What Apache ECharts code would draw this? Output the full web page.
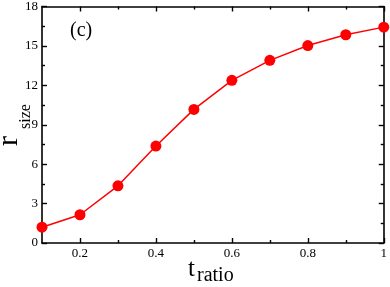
<!DOCTYPE html>
<html>
<head>
<meta charset="utf-8">
<script src="https://cdn.jsdelivr.net/npm/echarts@6/dist/echarts.min.js"></script>
<style>html,body{margin:0;padding:0;background:#fff}#c{width:390px;height:287px}</style>
</head>
<body>
<div id="c"></div>
<script>
var tRatio = [0.1, 0.2, 0.3, 0.4, 0.5, 0.6, 0.7, 0.8, 0.9, 1.0];
var rSize = [1.2, 2.15, 4.35, 7.38, 10.17, 12.38, 13.9, 15.03, 15.85, 16.43];
var xMajorTicks = [0.2, 0.4, 0.6, 0.8, 1.0];
var xMinorTicks = [0.3, 0.5, 0.7, 0.9];
var yTicks = [0, 3, 6, 9, 12, 15, 18];

var FONT = 'Liberation Serif';
var chart = echarts.init(document.getElementById('c'), null, {renderer: 'canvas'});
function xAx(pos, ticks, len, labels, line) {
  return {
    type: 'value', position: pos, min: 0.1, max: 1.0, interval: 0.1,
    axisLine: {show: line, onZero: false, lineStyle: {color: '#000', width: 1.6}},
    axisTick: {show: true, inside: true, length: len, customValues: ticks, lineStyle: {color: '#000', width: 1.4}},
    axisLabel: labels ? {show: true, customValues: xMajorTicks, margin: 4, color: '#000', fontFamily: FONT, fontSize: 13,
      formatter: function (v) { return Math.abs(v - 1) < 1e-9 ? '1' : v.toFixed(1); }} : {show: false},
    splitLine: {show: false}
  };
}
function yAx(pos, labels) {
  return {
    type: 'value', position: pos, min: yTicks[0], max: yTicks[yTicks.length - 1], interval: 3,
    axisLine: {show: true, onZero: false, lineStyle: {color: '#000', width: 1.6}},
    axisTick: {show: true, inside: true, length: 5, lineStyle: {color: '#000', width: 1.4}},
    minorTick: {show: true, splitNumber: 2, length: 3, lineStyle: {color: '#000', width: 1.4}},
    axisLabel: labels ? {show: true, margin: 4, color: '#000', fontFamily: FONT, fontSize: 13} : {show: false},
    splitLine: {show: false}
  };
}
chart.setOption({
  animation: false,
  grid: {left: 42, right: 6, top: 6, bottom: 44, containLabel: false},
  xAxis: [
    xAx('bottom', xMajorTicks, 5, true, true),
    xAx('bottom', xMinorTicks, 3, false, false),
    xAx('top', xMajorTicks, 5, false, true),
    xAx('top', xMinorTicks, 3, false, false)
  ],
  yAxis: [yAx('left', true), yAx('right', false)],
  series: [{
    type: 'line', xAxisIndex: 0, yAxisIndex: 0,
    data: tRatio.map(function (t, i) { return [t, rSize[i]]; }),
    symbol: 'circle', symbolSize: 11, clip: false,
    lineStyle: {color: '#ff0000', width: 1.5},
    itemStyle: {color: '#ff0000'}
  }],
  graphic: [
    {type: 'text', left: 70, top: 21, style: {text: '(c)', font: '20px "Liberation Serif"', fill: '#000'}},
    {type: 'text', x: 188, y: 257, style: {text: 't', font: '25px "Liberation Serif"', fill: '#000'}},
    {type: 'text', x: 197, y: 266, style: {text: 'ratio', font: '20px "Liberation Serif"', fill: '#000'}},
    {type: 'text', x: 24, y: 146, rotation: Math.PI / 2, style: {text: 'r', font: '30px "Liberation Serif"', fill: '#000', textAlign: 'left', textVerticalAlign: 'bottom'}},
    {type: 'text', x: 34, y: 129, rotation: Math.PI / 2, style: {text: 'size', font: '16px "Liberation Serif"', fill: '#000', textAlign: 'left', textVerticalAlign: 'bottom'}}
  ]
});
</script>
</body>
</html>
